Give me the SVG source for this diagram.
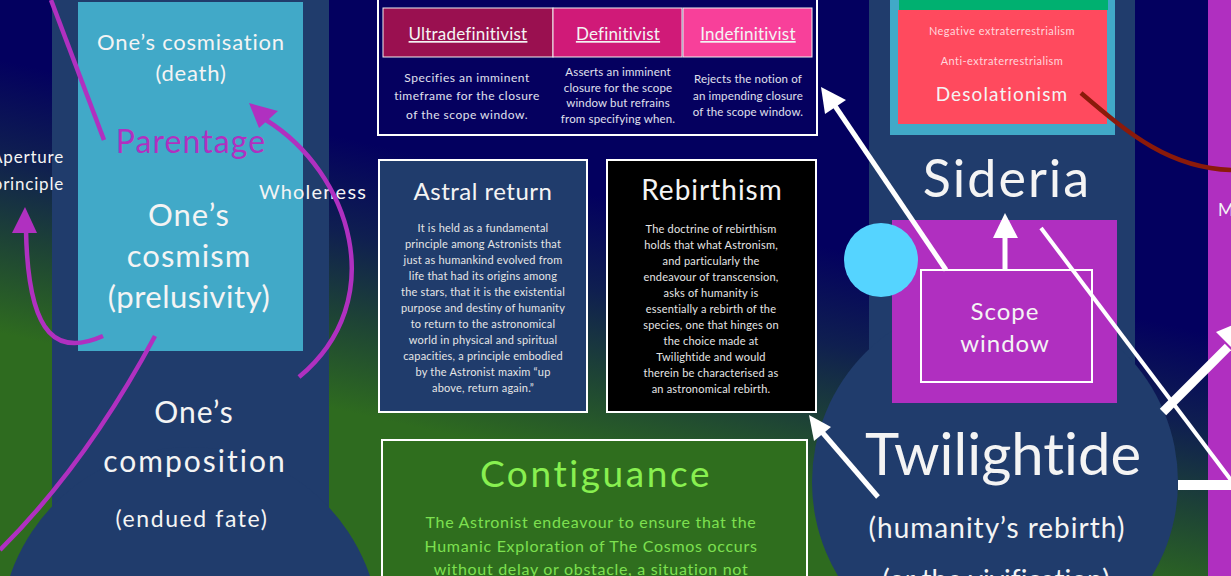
<svg xmlns="http://www.w3.org/2000/svg" width="1231" height="576" viewBox="0 0 1231 576">
<defs>
<linearGradient id="bg" gradientUnits="userSpaceOnUse" x1="619" y1="200" x2="560" y2="460">
<stop offset="0" stop-color="#03005f"/>
<stop offset="0.35" stop-color="#0f1f50"/>
<stop offset="0.65" stop-color="#1d4236"/>
<stop offset="1" stop-color="#2e6b1f"/>
</linearGradient>
<style>
text{font-family:Lato,"Liberation Sans",sans-serif;text-anchor:middle;fill:#f4f4f4;font-variant-ligatures:none}
.dk{fill:#203c6c}
.lb{fill:#41a9c8}
.mg{fill:#b02fc0}
.wbox{stroke:#ffffff;stroke-width:2}
.body{font-size:11px;fill:#e6e6e6;letter-spacing:0.2px}
.desc{font-size:12px;fill:#e0e0ee;letter-spacing:0.5px}
.desc2{font-size:11.5px;fill:#e0e0ee;letter-spacing:0.15px}
.hd{font-size:17px;text-decoration:underline;letter-spacing:0.2px}
.mline{fill:none;stroke:#b030c0;stroke-width:4.5;stroke-linecap:butt}
.wline{fill:none;stroke:#ffffff;stroke-width:5}
</style>
</defs>
<rect x="0" y="0" width="1231" height="576" fill="url(#bg)"/>

<g id="node-composition">
<rect class="dk" x="52" y="0" width="277" height="520"/>
<circle class="dk" cx="190" cy="637" r="190"/>
<text x="194" y="423" font-size="30" letter-spacing="1">One’s</text>
<text x="195" y="472" font-size="30" letter-spacing="2">composition</text>
<text x="192" y="527" font-size="23" letter-spacing="1.6">(endued fate)</text>
</g>

<g id="node-cosmism">
<rect class="lb" x="78" y="2" width="225" height="349"/>
<text x="191" y="50" font-size="22" letter-spacing="0.8">One’s cosmisation</text>
<text x="191" y="81" font-size="22" letter-spacing="0.8">(death)</text>
<text x="191" y="153" font-size="32" letter-spacing="1.1" style="fill:#b030c0">Parentage</text>
<text x="189" y="226" font-size="31" letter-spacing="1">One’s</text>
<text x="189" y="267" font-size="31" letter-spacing="1">cosmism</text>
<text x="189" y="308" font-size="31" letter-spacing="0.5">(prelusivity)</text>
</g>

<g id="label-aperture">
<text x="64" y="163" font-size="17" letter-spacing="0.8" style="text-anchor:end">Aperture</text>
<text x="64" y="190" font-size="17" letter-spacing="0.8" style="text-anchor:end">principle</text>
</g>
<g id="label-wholeness">
<text x="313" y="199" font-size="20" letter-spacing="1.2">Wholeness</text>
</g>

<g id="node-definitivism">
<rect x="378" y="-10" width="439" height="145" fill="#05005f" class="wbox"/>
<rect x="383" y="8" width="170" height="49" fill="#9a1050" stroke="#f0f0f0" stroke-width="1"/>
<rect x="553" y="8" width="129" height="49" fill="#d01a78" stroke="#f0f0f0" stroke-width="1"/>
<rect x="683" y="8" width="129" height="49" fill="#f8409a" stroke="#f0f0f0" stroke-width="1"/>
<text class="hd" x="468" y="40">Ultradefinitivist</text>
<text class="hd" x="618" y="40">Definitivist</text>
<text class="hd" x="748" y="40">Indefinitivist</text>
<text class="desc" x="467" y="82">Specifies an imminent</text>
<text class="desc" x="467" y="100">timeframe for the closure</text>
<text class="desc" x="467" y="119">of the scope window.</text>
<text class="desc2" x="618" y="76">Asserts an imminent</text>
<text class="desc2" x="618" y="91.5">closure for the scope</text>
<text class="desc2" x="618" y="107">window but refrains</text>
<text class="desc2" x="618" y="122.5">from specifying when.</text>
<text class="desc2" x="748" y="83">Rejects the notion of</text>
<text class="desc2" x="748" y="99.5">an impending closure</text>
<text class="desc2" x="748" y="115.5">of the scope window.</text>
</g>

<g id="node-astral-return">
<rect x="379" y="160" width="208" height="252" fill="#203c6c" class="wbox"/>
<text x="483" y="200" font-size="24" letter-spacing="0.5">Astral return</text>
<text class="body" x="483" y="232">It is held as a fundamental</text>
<text class="body" x="483" y="248">principle among Astronists that</text>
<text class="body" x="483" y="264">just as humankind evolved from</text>
<text class="body" x="483" y="280">life that had its origins among</text>
<text class="body" x="483" y="296">the stars, that it is the existential</text>
<text class="body" x="483" y="312">purpose and destiny of humanity</text>
<text class="body" x="483" y="328">to return to the astronomical</text>
<text class="body" x="483" y="344">world in physical and spiritual</text>
<text class="body" x="483" y="360">capacities, a principle embodied</text>
<text class="body" x="483" y="376">by the Astronist maxim “up</text>
<text class="body" x="483" y="392">above, return again.”</text>
</g>

<g id="node-rebirthism">
<rect x="607" y="160" width="209" height="252" fill="#000000" class="wbox"/>
<text x="712" y="200" font-size="28" letter-spacing="1">Rebirthism</text>
<text class="body" x="711" y="233">The doctrine of rebirthism</text>
<text class="body" x="711" y="249">holds that what Astronism,</text>
<text class="body" x="711" y="265">and particularly the</text>
<text class="body" x="711" y="281">endeavour of transcension,</text>
<text class="body" x="711" y="297">asks of humanity is</text>
<text class="body" x="711" y="313">essentially a rebirth of the</text>
<text class="body" x="711" y="329">species, one that hinges on</text>
<text class="body" x="711" y="345">the choice made at</text>
<text class="body" x="711" y="361">Twilightide and would</text>
<text class="body" x="711" y="377">therein be characterised as</text>
<text class="body" x="711" y="393">an astronomical rebirth.</text>
</g>

<g id="node-contiguance">
<rect x="382" y="440" width="425" height="150" fill="#2f6e1e" class="wbox"/>
<text x="596" y="487" font-size="37" letter-spacing="2.6" style="fill:#88f050">Contiguance</text>
<text x="591" y="528" font-size="16" letter-spacing="0.7" style="fill:#7de050">The Astronist endeavour to ensure that the</text>
<text x="591" y="552" font-size="16" letter-spacing="0.7" style="fill:#7de050">Humanic Exploration of The Cosmos occurs</text>
<text x="591" y="575" font-size="16" letter-spacing="0.7" style="fill:#7de050">without delay or obstacle, a situation not</text>
</g>

<g id="node-right-column">
<rect class="mg" x="1208" y="0" width="30" height="576"/>
<text x="1226" y="216" font-size="17">M</text>
</g>

<g id="node-twilightide">
<rect class="dk" x="869" y="0" width="266" height="380"/>
<circle class="dk" cx="995" cy="482" r="183"/>
<text x="1003" y="475" font-size="58">Twilightide</text>
<text x="997" y="538" font-size="28" letter-spacing="1">(humanity’s rebirth)</text>
<text x="996" y="590" font-size="28">(or the vivification)</text>
</g>

<g id="node-sideria">
<rect class="lb" x="890" y="-5" width="225" height="140"/>
<rect x="899" y="-5" width="209" height="15" fill="#00b070"/>
<rect x="898" y="10" width="209" height="114" fill="#ff4a5e"/>
<text x="1002" y="35" font-size="11" letter-spacing="0.45" style="fill:#ffd6dc">Negative extraterrestrialism</text>
<text x="1002" y="65" font-size="11" letter-spacing="0.45" style="fill:#ffd6dc">Anti-extraterrestrialism</text>
<text x="1002" y="101" font-size="19" letter-spacing="1.1">Desolationism</text>
<text x="1007" y="197" font-size="52" letter-spacing="2">Sideria</text>
</g>

<g id="node-scope-window">
<rect class="mg" x="892" y="220" width="225" height="183"/>
<rect x="921" y="270" width="171" height="112" fill="none" class="wbox"/>
<text x="1005" y="320" font-size="24" letter-spacing="1">Scope</text>
<text x="1005" y="352" font-size="24" letter-spacing="1">window</text>
</g>

<g id="node-dot">
<circle cx="881" cy="260" r="37" fill="#55d4ff"/>
</g>

<g id="connectors">
<path class="mline" d="M51,0 L104,140"/>
<path class="mline" d="M299,377 C392,300 350,172 266,120"/>
<polygon points="249,103 278,111 259,128" fill="#b030c0"/>
<path class="mline" d="M103,336 C60,355 28,342 26,230"/>
<polygon points="25,207 12,233 37,233" fill="#b030c0"/>
<path class="mline" d="M155,336 C110,420 60,490 0,550"/>
<path d="M1081,93 C1130,135 1170,168 1231,170" fill="none" stroke="#8b1a0a" stroke-width="4.5"/>
<path class="wline" d="M946,270 L833,103"/>
<polygon points="821,87 846,100 825,114" fill="#ffffff"/>
<path class="wline" d="M1005,270 L1005,236"/>
<polygon points="1005,213 993,238 1018,238" fill="#ffffff"/>
<path d="M1041,228 L1240,492" fill="none" stroke="#ffffff" stroke-width="4"/>
<path d="M1163,412 L1228,347" fill="none" stroke="#ffffff" stroke-width="9"/>
<polygon points="1216,332 1250,318 1240,356" fill="#ffffff"/>
<path d="M1178,485 L1231,485" fill="none" stroke="#ffffff" stroke-width="10"/>
<path class="wline" d="M878,497 L822,432"/>
<polygon points="809,415 831,427 814,441" fill="#ffffff"/>
</g>
</svg>
